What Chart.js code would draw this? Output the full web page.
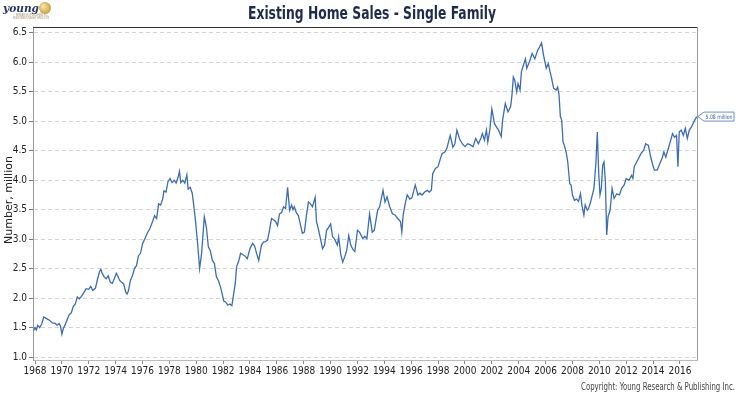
<!DOCTYPE html>
<html>
<head>
<meta charset="utf-8">
<title>Existing Home Sales - Single Family</title>
<script src="https://cdn.jsdelivr.net/npm/chart.js@4.4.1/dist/chart.umd.min.js"></script>
<style>
  html, body { margin: 0; padding: 0; background: #fff; }
  #wrap { width: 740px; height: 400px; }
</style>
</head>
<body>
<div id="wrap"><canvas id="salesChart" width="740" height="400"></canvas></div>
<script>
// decimal year of each reading, and sales in millions
const dates = [
  1967.9, 1968.0, 1968.1, 1968.2, 1968.35, 1968.5, 1968.65, 1968.8, 1968.95, 1969.1, 1969.3, 1969.5, 1969.65, 1969.8, 1969.9,
  1970.0, 1970.1, 1970.25, 1970.4, 1970.55, 1970.7, 1970.85, 1971.0, 1971.15, 1971.3, 1971.45, 1971.6, 1971.8, 1972.0, 1972.15,
  1972.3, 1972.5, 1972.65, 1972.8, 1972.9, 1973.0, 1973.15, 1973.3, 1973.45, 1973.6, 1973.75, 1973.9, 1974.05, 1974.15, 1974.3,
  1974.45, 1974.6, 1974.75, 1974.85, 1974.95, 1975.1, 1975.25, 1975.4, 1975.55, 1975.7, 1975.85, 1976.0, 1976.2, 1976.35, 1976.55,
  1976.75, 1976.9, 1977.05, 1977.2, 1977.35, 1977.5, 1977.6, 1977.75, 1977.9, 1978.05, 1978.2, 1978.35, 1978.5, 1978.65, 1978.75,
  1978.85, 1979.0, 1979.15, 1979.3, 1979.4, 1979.55, 1979.7, 1979.8, 1979.95, 1980.1, 1980.25, 1980.4, 1980.6, 1980.75, 1980.9,
  1981.05, 1981.2, 1981.35, 1981.5, 1981.65, 1981.8, 1981.95, 1982.05, 1982.2, 1982.35, 1982.5, 1982.65, 1982.75, 1982.9, 1983.0,
  1983.15, 1983.3, 1983.45, 1983.6, 1983.8, 1984.0, 1984.2, 1984.35, 1984.5, 1984.65, 1984.85, 1985.0, 1985.15, 1985.3, 1985.45,
  1985.6, 1985.75, 1985.9, 1986.05, 1986.2, 1986.35, 1986.5, 1986.65, 1986.8, 1986.95, 1987.1, 1987.2, 1987.3, 1987.45, 1987.6,
  1987.75, 1987.9, 1988.05, 1988.2, 1988.35, 1988.5, 1988.65, 1988.85, 1988.95, 1989.1, 1989.25, 1989.4, 1989.55, 1989.7, 1989.85,
  1990.0, 1990.15, 1990.3, 1990.5, 1990.6, 1990.75, 1990.9, 1991.05, 1991.2, 1991.35, 1991.5, 1991.65, 1991.8, 1992.0, 1992.15,
  1992.4, 1992.55, 1992.7, 1992.9, 1993.1, 1993.25, 1993.5, 1993.65, 1993.9, 1994.05, 1994.2, 1994.4, 1994.6, 1994.8, 1995.0,
  1995.2, 1995.3, 1995.4, 1995.55, 1995.7, 1995.9, 1996.05, 1996.3, 1996.5, 1996.65, 1996.8, 1997.0, 1997.2, 1997.35, 1997.5,
  1997.6, 1997.8, 1998.0, 1998.15, 1998.3, 1998.5, 1998.65, 1998.9, 1999.1, 1999.25, 1999.4, 1999.6, 1999.8, 2000.0, 2000.2,
  2000.4, 2000.6, 2000.8, 2001.0, 2001.2, 2001.3, 2001.45, 2001.6, 2001.7, 2001.85, 2002.0, 2002.2, 2002.35, 2002.5, 2002.7,
  2002.8, 2003.0, 2003.2, 2003.4, 2003.5, 2003.6, 2003.7, 2003.85, 2003.95, 2004.1, 2004.2, 2004.35, 2004.5, 2004.6, 2004.8,
  2005.0, 2005.2, 2005.4, 2005.55, 2005.7, 2005.85, 2006.05, 2006.2, 2006.45, 2006.6, 2006.8, 2006.9, 2007.0, 2007.1, 2007.2,
  2007.3, 2007.4, 2007.55, 2007.65, 2007.8, 2007.9, 2008.0, 2008.15, 2008.3, 2008.45, 2008.6, 2008.7, 2008.85, 2008.95, 2009.1,
  2009.2, 2009.35, 2009.6, 2009.75, 2009.85, 2009.95, 2010.05, 2010.15, 2010.25, 2010.35, 2010.45, 2010.55, 2010.65, 2010.8, 2010.95,
  2011.1, 2011.3, 2011.5, 2011.65, 2011.85, 2012.0, 2012.2, 2012.4, 2012.5, 2012.6, 2012.85, 2013.1, 2013.3, 2013.45, 2013.65,
  2013.8, 2013.95, 2014.1, 2014.3, 2014.5, 2014.7, 2014.8, 2014.95, 2015.2, 2015.45, 2015.6, 2015.75, 2015.85, 2015.95, 2016.1,
  2016.25, 2016.4, 2016.55, 2016.7, 2016.85, 2017.1, 2017.25
];
const sales = [
  1.45, 1.50, 1.46, 1.54, 1.50, 1.56, 1.68, 1.66, 1.64, 1.62, 1.58, 1.57, 1.54, 1.57, 1.52,
  1.39, 1.48, 1.55, 1.64, 1.72, 1.75, 1.86, 1.90, 2.02, 1.99, 2.03, 2.08, 2.16, 2.15, 2.20,
  2.13, 2.17, 2.32, 2.45, 2.49, 2.42, 2.36, 2.33, 2.38, 2.27, 2.25, 2.33, 2.42, 2.38, 2.30,
  2.27, 2.24, 2.10, 2.07, 2.12, 2.30, 2.38, 2.50, 2.55, 2.72, 2.76, 2.92, 3.02, 3.10, 3.18,
  3.30, 3.40, 3.35, 3.60, 3.58, 3.68, 3.82, 3.80, 3.98, 4.03, 3.96, 4.00, 3.95, 4.05, 4.15,
  3.96, 4.00, 3.95, 4.09, 3.85, 3.88, 3.78, 3.60, 3.30, 2.93, 2.50, 2.76, 3.38, 3.21, 2.87,
  2.80, 2.64, 2.59, 2.36, 2.30, 2.19, 2.05, 1.95, 1.93, 1.88, 1.90, 1.87, 2.02, 2.24, 2.53,
  2.62, 2.76, 2.74, 2.72, 2.67, 2.84, 2.93, 2.88, 2.75, 2.64, 2.90, 2.95, 2.96, 2.98, 3.15,
  3.35, 3.33, 3.30, 3.23, 3.43, 3.45, 3.55, 3.52, 3.88, 3.49, 3.58, 3.50, 3.55, 3.45, 3.40,
  3.25, 3.10, 3.12, 3.40, 3.63, 3.60, 3.55, 3.71, 3.30, 3.16, 3.00, 2.84, 2.90, 3.15, 3.20,
  3.26, 3.04, 3.00, 2.90, 3.04, 2.75, 2.61, 2.70, 2.81, 3.06, 2.90, 2.83, 2.79, 3.15, 3.12,
  3.01, 3.05, 3.01, 3.43, 3.12, 3.15, 3.49, 3.55, 3.83, 3.63, 3.72, 3.55, 3.43, 3.41, 3.35,
  3.30, 3.12, 3.41, 3.60, 3.75, 3.68, 3.70, 3.92, 3.75, 3.78, 3.75, 3.80, 3.83, 3.80, 3.83,
  4.11, 4.20, 4.23, 4.35, 4.45, 4.48, 4.54, 4.76, 4.56, 4.62, 4.85, 4.70, 4.62, 4.57, 4.62,
  4.60, 4.57, 4.71, 4.62, 4.72, 4.79, 4.68, 4.85, 4.65, 4.85, 5.21, 4.96, 4.90, 4.85, 4.74,
  5.02, 5.30, 5.16, 5.25, 5.45, 5.75, 5.70, 5.50, 5.64, 5.53, 5.84, 5.95, 6.06, 5.90, 6.01,
  6.15, 6.06, 6.20, 6.26, 6.33, 6.12, 5.90, 5.98, 5.73, 5.56, 5.53, 5.58, 5.45, 5.08, 5.02,
  4.65, 4.59, 4.45, 4.31, 3.94, 3.92, 3.75, 3.66, 3.68, 3.64, 3.77, 3.58, 3.41, 3.58, 3.49,
  3.52, 3.63, 3.86, 4.31, 4.82, 4.14, 3.75, 3.86, 4.25, 4.31, 3.97, 3.07, 3.38, 3.49, 3.86,
  3.69, 3.77, 3.75, 3.86, 3.92, 4.03, 4.00, 4.08, 4.03, 4.23, 4.34, 4.45, 4.51, 4.62, 4.59,
  4.42, 4.28, 4.17, 4.17, 4.28, 4.39, 4.48, 4.39, 4.59, 4.79, 4.73, 4.76, 4.23, 4.82, 4.85,
  4.76, 4.88, 4.71, 4.85, 4.90, 5.02, 5.08
];
const xTicks = [1968, 1970, 1972, 1974, 1976, 1978, 1980, 1982, 1984, 1986, 1988, 1990,
                1992, 1994, 1996, 1998, 2000, 2002, 2004, 2006, 2008, 2010, 2012, 2014, 2016];
const yTicks = [1.0, 1.5, 2.0, 2.5, 3.0, 3.5, 4.0, 4.5, 5.0, 5.5, 6.0, 6.5];

const chartTitle = 'Existing Home Sales - Single Family';
const yTitle = 'Number, million';
const copyright = 'Copyright: Young Research & Publishing Inc.';

const lineColor = '#3a6db4';
const narrow = '"DejaVu Sans Condensed", "Liberation Sans Narrow", Arial, sans-serif';

// title, logo, frame, last-value callout and footer
const decorations = {
    id: 'decorations',
    afterDraw(chart) {
        const ctx = chart.ctx;
        const area = chart.chartArea;
        ctx.save();

        // title (squeezed to the condensed width of the original)
        ctx.fillStyle = '#1d2b4f';
        ctx.font = 'bold 17px ' + narrow;
        ctx.textAlign = 'center';
        ctx.textBaseline = 'middle';
        ctx.fillText(chartTitle, 372, 15, 248);

        // logo
        const g = ctx.createRadialGradient(43, 6, 1, 45, 8, 7);
        g.addColorStop(0, '#f7e3a0');
        g.addColorStop(1, '#c49a35');
        ctx.fillStyle = g;
        ctx.beginPath();
        ctx.arc(45, 8, 6, 0, Math.PI * 2);
        ctx.fill();
        ctx.fillStyle = '#27346b';
        ctx.font = 'italic bold 11px "DejaVu Serif", serif';
        ctx.textAlign = 'left';
        ctx.textBaseline = 'alphabetic';
        ctx.fillText('young', 3, 12, 36);
        ctx.fillStyle = '#9a8a60';
        ctx.font = '3px sans-serif';
        ctx.fillText('RESEARCH & PUBLISHING INC.', 16, 16, 32);
        ctx.fillText('INVESTMENT INSIGHT SINCE 1978', 13, 19, 36);

        // frame: top and right
        ctx.strokeStyle = '#333';
        ctx.lineWidth = 1;
        ctx.beginPath();
        ctx.moveTo(area.left, area.top + 0.5);
        ctx.lineTo(area.right, area.top + 0.5);
        ctx.stroke();
        ctx.strokeStyle = '#999';
        ctx.beginPath();
        ctx.moveTo(area.right + 0.5, area.top);
        ctx.lineTo(area.right + 0.5, area.bottom);
        ctx.stroke();

        // y axis title
        ctx.save();
        ctx.translate(9, 200);
        ctx.rotate(-Math.PI / 2);
        ctx.fillStyle = '#222';
        ctx.font = '11px "DejaVu Sans", Arial, sans-serif';
        ctx.textAlign = 'center';
        ctx.textBaseline = 'middle';
        ctx.fillText(yTitle, 0, 0, 110);
        ctx.restore();

        // last value callout
        const meta = chart.getDatasetMeta(0);
        const last = meta.data[meta.data.length - 1];
        const px = last.x + 1, py = last.y;
        const bx = 704, bw = 30, bh = 9, by = py - bh / 2;
        ctx.fillStyle = '#fff';
        ctx.strokeStyle = '#6d92c9';
        ctx.lineWidth = 1;
        ctx.beginPath();
        ctx.moveTo(px, py);
        ctx.lineTo(bx, by);
        ctx.lineTo(bx + bw, by);
        ctx.lineTo(bx + bw, by + bh);
        ctx.lineTo(bx, by + bh);
        ctx.closePath();
        ctx.fill();
        ctx.stroke();
        ctx.fillStyle = '#3a5f9a';
        ctx.font = '6px ' + narrow;
        ctx.textAlign = 'center';
        ctx.textBaseline = 'middle';
        ctx.fillText(sales[sales.length - 1].toFixed(2) + ' million', bx + bw / 2, py + 0.5, bw - 3);

        // footer
        ctx.fillStyle = '#444';
        ctx.font = '10px ' + narrow;
        ctx.textAlign = 'right';
        ctx.textBaseline = 'middle';
        ctx.fillText(copyright, 735, 387, 154);

        ctx.restore();
    }
};

const ctx = document.getElementById('salesChart');

new Chart(ctx, {
    type: 'line',
    data: {
        datasets: [{
            label: 'Existing Home Sales - Single Family',
            data: dates.map((d, i) => ({ x: d, y: sales[i] })),
            borderColor: lineColor,
            borderWidth: 1.3,
            pointRadius: 0,
            fill: false,
            tension: 0
        }]
    },
    options: {
        responsive: false,
        animation: false,
        layout: {
            padding: { top: 27, right: 43, bottom: 22, left: 0 }
        },
        plugins: {
            legend: { display: false },
            tooltip: { enabled: false }
        },
        scales: {
            x: {
                type: 'linear',
                min: 1967.85,
                max: 2017.27,
                afterBuildTicks: (scale) => { scale.ticks = xTicks.map(v => ({ value: v })); },
                afterFit: (scale) => { scale.height = 18; },
                grid: {
                    display: true,
                    drawOnChartArea: false,
                    tickLength: 4,
                    tickColor: '#888'
                },
                border: { display: true, color: '#bbb' },
                ticks: {
                    autoSkip: false,
                    maxRotation: 0,
                    padding: 1,
                    color: '#222',
                    font: { family: narrow, size: 10 },
                    callback: (v) => String(v)
                }
            },
            y: {
                min: 0.95,
                max: 6.6,
                afterBuildTicks: (scale) => { scale.ticks = yTicks.map(v => ({ value: v })); },
                afterFit: (scale) => { scale.width = 33; },
                grid: {
                    color: '#d4d4d4',
                    tickLength: 4,
                    tickColor: '#777'
                },
                border: { display: true, color: '#999', dash: [4, 3] },
                ticks: {
                    padding: 2,
                    color: '#222',
                    font: { family: narrow, size: 10 },
                    callback: (v) => v.toFixed(1)
                }
            }
        }
    },
    plugins: [decorations]
});
</script>
</body>
</html>
